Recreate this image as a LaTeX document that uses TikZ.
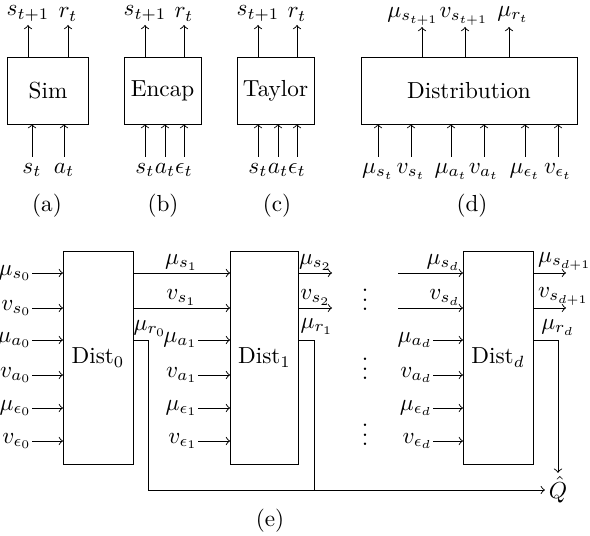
\documentclass[tikz,border=0pt]{standalone}
\begin{document}
\begin{tikzpicture}[x=0.431pt,y=-0.431pt,
  box/.style={draw, inner sep=0pt, outer sep=0pt},
  vlab/.style={inner sep=2.5pt},
  tlab/.style={inner sep=1.5pt},
  hlab/.style={inner sep=0pt},
  alab/.style={inner sep=1pt}]
\useasboundingbox (0,0) rectangle (590,536);

% ---------- (a) Sim ----------
\node[box, minimum width=35.3pt, minimum height=28.9pt] (sim) at (48,90.5) {Sim};
\node[tlab, anchor=south] (ao1) at (28,25) {$s_{t+1}$};
\node[tlab, anchor=south] (ao2) at (68,25) {$r_t$};
\node[vlab, anchor=north] (ai1) at (32,157) {$s_t$};
\node[vlab, anchor=north] (ai2) at (64,157) {$a_t$};
\foreach \n in {ao1,ao2} \draw[->] (sim.north -| \n) -- (\n.south);
\foreach \n in {ai1,ai2} \draw[->] (\n.north) -- (\n.north |- sim.south);
\node (capa) at (47,206) {(a)};

% ---------- (b) Encap ----------
\node[box, minimum width=33.2pt, minimum height=28.9pt] (enc) at (162.5,90.5) {Encap};
\node[tlab, anchor=south] (bo1) at (145,25) {$s_{t+1}$};
\node[tlab, anchor=south] (bo2) at (184,25) {$r_t$};
\node[vlab, anchor=north] (bi1) at (145,157) {$s_t$};
\node[vlab, anchor=north] (bi2) at (165,157) {$a_t$};
\node[vlab, anchor=north] (bi3) at (184,157) {$\epsilon_t$};
\foreach \n in {bo1,bo2} \draw[->] (enc.north -| \n) -- (\n.south);
\foreach \n in {bi1,bi2,bi3} \draw[->] (\n.north) -- (\n.north |- enc.south);
\node (capb) at (163,206) {(b)};

% ---------- (c) Taylor ----------
\node[box, minimum width=33.2pt, minimum height=28.9pt] (tay) at (275.5,90.5) {Taylor};
\node[tlab, anchor=south] (co1) at (258,25) {$s_{t+1}$};
\node[tlab, anchor=south] (co2) at (297,25) {$r_t$};
\node[vlab, anchor=north] (ci1) at (258,157) {$s_t$};
\node[vlab, anchor=north] (ci2) at (278,157) {$a_t$};
\node[vlab, anchor=north] (ci3) at (297,157) {$\epsilon_t$};
\foreach \n in {co1,co2} \draw[->] (tay.north -| \n) -- (\n.south);
\foreach \n in {ci1,ci2,ci3} \draw[->] (\n.north) -- (\n.north |- tay.south);
\node (capc) at (277,206) {(c)};

% ---------- (d) Distribution ----------
\node[box, minimum width=93.1pt, minimum height=28.9pt] (dis) at (469,90.5) {Distribution};
\coordinate (dt1) at (422,27);
\coordinate (dt2) at (465,27);
\coordinate (dt3) at (509,27);
\node[tlab, anchor=south] (do1) at (413,29) {$\mu_{s_{t+1}}$};
\node[tlab, anchor=south] (do2) at (464,29) {$v_{s_{t+1}}$};
\node[tlab, anchor=south] (do3) at (513,26) {$\mu_{r_t}$};
\foreach \n in {dt1,dt2,dt3} \draw[->] (dis.north -| \n) -- (\n);
\node[vlab, anchor=north] (di1) at (378,157) {$\mu_{s_t}$};
\node[vlab, anchor=north] (di2) at (411,157) {$v_{s_t}$};
\node[vlab, anchor=north] (di3) at (451,157) {$\mu_{a_t}$};
\node[vlab, anchor=north] (di4) at (484,157) {$v_{a_t}$};
\node[vlab, anchor=north] (di5) at (525,157) {$\mu_{\epsilon_t}$};
\node[vlab, anchor=north] (di6) at (558,157) {$v_{\epsilon_t}$};
\foreach \n in {di1,di2,di3,di4,di5,di6} \draw[->] (\n.north) -- (\n.north |- dis.south);
\node (capd) at (472,206) {(d)};

% ---------- (e) chain ----------
\node[box, minimum width=30.2pt, minimum height=91.8pt] (d0) at (98,357.5) {Dist$_0$};
\node[box, minimum width=29.7pt, minimum height=91.8pt] (d1) at (264.5,357.5) {Dist$_1$};
\node[box, minimum width=30.2pt, minimum height=91.8pt] (dd) at (498,357.5) {Dist$_d$};

% inputs of Dist0
\node[hlab, anchor=east] (l01) at (32,273) {$\mu_{s_0}$};
\node[hlab, anchor=east] (l02) at (32,308) {$v_{s_0}$};
\node[hlab, anchor=east] (l03) at (32,340) {$\mu_{a_0}$};
\node[hlab, anchor=east] (l04) at (32,375) {$v_{a_0}$};
\node[hlab, anchor=east] (l05) at (32,408) {$\mu_{\epsilon_0}$};
\node[hlab, anchor=east] (l06) at (32,441) {$v_{\epsilon_0}$};
\foreach \n in {l01,l02,l03,l04,l05,l06} \draw[->] (\n.east) -- (\n.east -| d0.west);

% inputs of Dist1
\node[hlab, anchor=east] (l13) at (198,340) {$\mu_{a_1}$};
\node[hlab, anchor=east] (l14) at (198,375) {$v_{a_1}$};
\node[hlab, anchor=east] (l15) at (198,408) {$\mu_{\epsilon_1}$};
\node[hlab, anchor=east] (l16) at (198,441) {$v_{\epsilon_1}$};
\foreach \n in {l13,l14,l15,l16} \draw[->] (\n.east) -- (\n.east -| d1.west);

% inputs of Dist_d
\node[hlab, anchor=east] (ld3) at (433,340) {$\mu_{a_d}$};
\node[hlab, anchor=east] (ld4) at (433,375) {$v_{a_d}$};
\node[hlab, anchor=east] (ld5) at (433,408) {$\mu_{\epsilon_d}$};
\node[hlab, anchor=east] (ld6) at (433,441) {$v_{\epsilon_d}$};
\foreach \n in {ld3,ld4,ld5,ld6} \draw[->] (\n.east) -- (\n.east -| dd.west);

% Dist0 -> Dist1
\draw[->] (d0.east |- l01) -- node[alab, above] (ms1) {$\mu_{s_1}$} (d1.west |- l01);
\draw[->] (d0.east |- l02) -- node[alab, above] (vs1) {$v_{s_1}$} (d1.west |- l02);

% Dist1 outputs
\coordinate (o1) at (332,273);
\coordinate (o2) at (332,308);
\draw[->] (d1.east |- l01) -- node[alab, above] (ms2) {$\mu_{s_2}$} (o1);
\draw[->] (d1.east |- l02) -- node[alab, above] (vs2) {$v_{s_2}$} (o2);

% Dist_d inputs from the left
\coordinate (i1) at (398,273);
\coordinate (i2) at (398,308);
\draw[->] (i1) -- node[alab, pos=1, anchor=south east] (msd) {$\mu_{s_d}$} (dd.west |- i1);
\draw[->] (i2) -- node[alab, pos=1, anchor=south east] (vsd) {$v_{s_d}$} (dd.west |- i2);

% Dist_d outputs
\coordinate (p1) at (566,273);
\coordinate (p2) at (566,308);
\draw[->] (dd.east |- p1) -- node[alab, pos=0, anchor=south west, xshift=1pt] (msd1) {$\mu_{s_{d+1}}$} (p1);
\draw[->] (dd.east |- p2) -- node[alab, pos=0, anchor=south west, xshift=1pt] (vsd1) {$v_{s_{d+1}}$} (p2);

% dots
\node (dots1) at (365,293) {$\vdots$};
\node (dots2) at (365,362) {$\vdots$};
\node (dots3) at (365,428) {$\vdots$};

% rewards
\node[inner sep=1.5pt] (Q) at (558,490) {$\hat{Q}$};
\coordinate (j0) at (148,490);
\coordinate (j1) at (314,490);
\node[alab, anchor=south] (r0) at (150,339) {$\mu_{r_0}$};
\node[alab, anchor=south] (r1) at (317,337) {$\mu_{r_1}$};
\node[alab, anchor=south] (rd) at (558,338) {$\mu_{r_d}$};
\draw[->] (d0.east |- l03) -| (j0) -- (Q);
\draw (d1.east |- l03) -| (j1);
\draw[->] (dd.east |- l03) -| (Q);

\node (cape) at (270,521) {(e)};
\end{tikzpicture}
\end{document}
